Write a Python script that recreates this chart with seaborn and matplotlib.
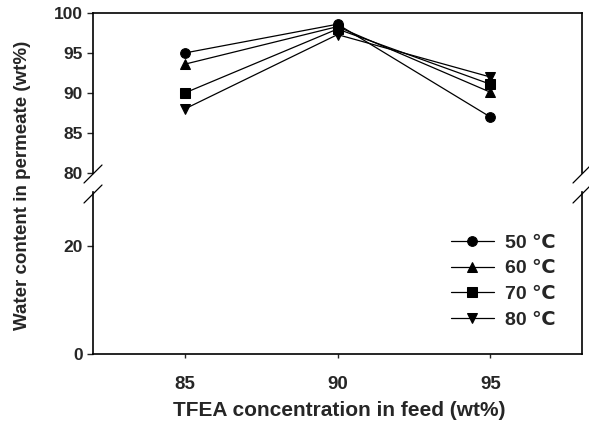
import matplotlib
matplotlib.use("Agg")
import matplotlib.pyplot as plt
import seaborn as sns
import pandas as pd

concentration = [85, 90, 95]
temps = ["50 \u2103", "60 \u2103", "70 \u2103", "80 \u2103"]
water_50 = [95.0, 98.6, 87.0]
water_60 = [93.6, 98.3, 90.1]
water_70 = [90.0, 98.0, 91.1]
water_80 = [88.0, 97.3, 92.0]
series = [water_50, water_60, water_70, water_80]
markers = ["o", "^", "s", "v"]

rows = []
for t, vals in zip(temps, series):
    for c, v in zip(concentration, vals):
        rows.append({"conc": c, "water": v, "temp": t})
df = pd.DataFrame(rows)

sns.set_style("ticks")
plt.rcParams["font.family"] = ["Liberation Sans", "DejaVu Sans"]
plt.rcParams["font.weight"] = "bold"

fig = plt.figure(figsize=(5.89, 4.28), dpi=100)
L, R = 93 / 589, 582 / 589
ax_top = fig.add_axes([L, 1 - 173 / 428, R - L, (173 - 13) / 428])
ax_bot = fig.add_axes([L, 1 - 354 / 428, R - L, (354 - 192) / 428])

for ax in (ax_top, ax_bot):
    sns.lineplot(data=df, x="conc", y="water", style="temp", markers=markers,
                 dashes=False, color="black", linewidth=0.9, markersize=7,
                 markeredgecolor="black", ax=ax, legend=(ax is ax_bot))
    ax.set_xlim(82, 98)
    ax.set_xlabel("")
    ax.set_ylabel("")
    for s in ax.spines.values():
        s.set_linewidth(1.2)
        s.set_color("black")

ax_top.set_ylim(80, 100)
ax_top.set_yticks([80, 85, 90, 95, 100])
ax_top.spines["bottom"].set_visible(False)
ax_top.set_xticks([])
ax_top.tick_params(axis="y", labelsize=12.5, length=4, width=1, direction="out")

ax_bot.set_ylim(0, 30)
ax_bot.set_yticks([0, 20])
ax_bot.spines["top"].set_visible(False)
ax_bot.set_xticks([85, 90, 95])
ax_bot.tick_params(axis="y", labelsize=12.5, length=4, width=1, direction="out")
ax_bot.tick_params(axis="x", labelsize=13.5, pad=13, length=3, width=1, direction="out")

for lab in ax_top.get_yticklabels() + ax_bot.get_yticklabels() + ax_bot.get_xticklabels():
    lab.set_fontweight("bold")

# break marks
h = 9
kw = dict(color="black", linewidth=0.9, clip_on=False)
for xp in (93, 582):
    for yp in (174, 194):
        fig.add_artist(plt.Line2D([(xp - h) / 589, (xp + h) / 589],
                                  [1 - (yp + h) / 428, 1 - (yp - h) / 428], **kw))

leg = ax_bot.legend(loc="upper left", bbox_to_anchor=(451 / 589, 1 - 234 / 428),
                    bbox_transform=fig.transFigure, frameon=False, borderpad=0,
                    borderaxespad=0, handlelength=2.2, fontsize=14,
                    labelspacing=0.42, handletextpad=0.6)
for t in leg.get_texts():
    t.set_fontweight("bold")
for hl in leg.get_lines():
    hl.set_color("black")
    hl.set_linewidth(0.9)

fig.text(0.038, 1 - 185 / 428, "Water content in permeate (wt%)", rotation=90,
         ha="center", va="center", fontsize=13.5, fontweight="bold")
fig.text(339 / 589, 1 - 411 / 428, "TFEA concentration in feed (wt%)",
         ha="center", va="center", fontsize=15, fontweight="bold")

fig.savefig("out.png", dpi=100)
